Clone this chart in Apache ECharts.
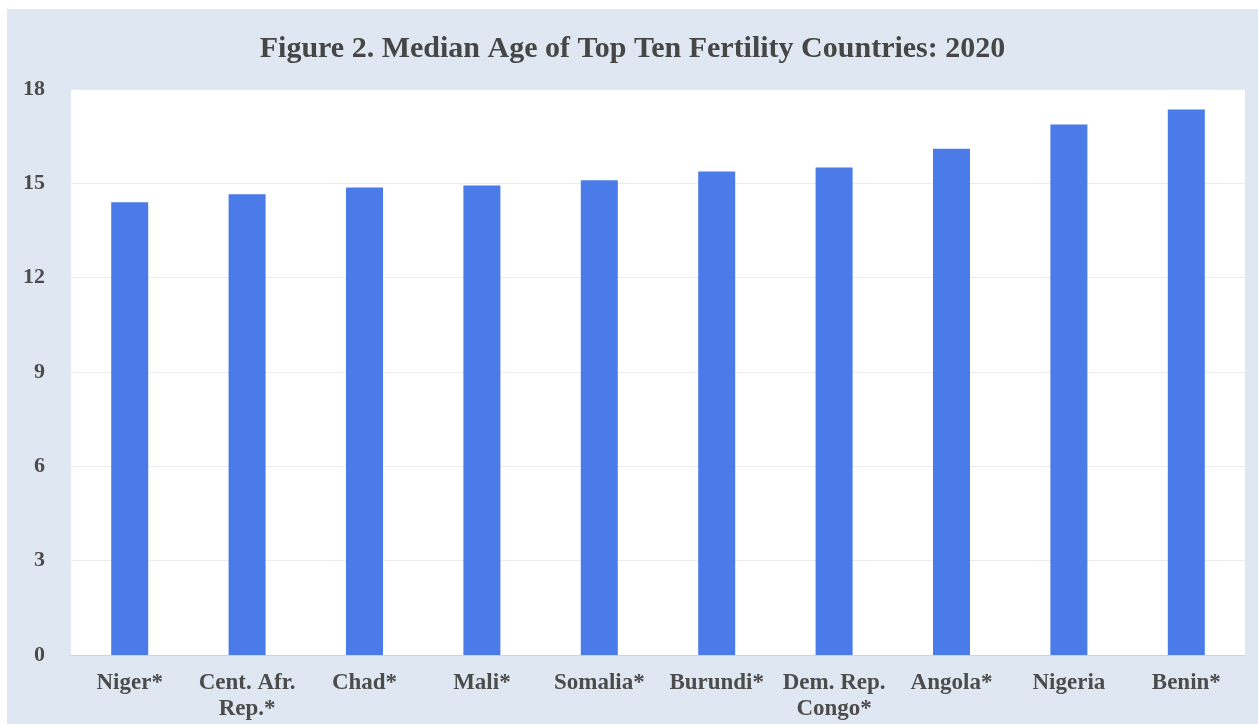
<!DOCTYPE html>
<html>
<head>
<meta charset="utf-8">
<script src="https://cdn.jsdelivr.net/npm/echarts@6/dist/echarts.min.js"></script>
<style>
  html, body { margin: 0; padding: 0; background: #ffffff; }
  #chart { position: absolute; left: 7px; top: 9px; width: 1251px; height: 715px; }
</style>
</head>
<body>
<div id="chart"></div>
<script>
  const countries = ['Niger*', 'Cent. Afr.\nRep.*', 'Chad*', 'Mali*', 'Somalia*', 'Burundi*', 'Dem. Rep.\nCongo*', 'Angola*', 'Nigeria', 'Benin*'];
  const medianAge = [14.4, 14.65, 14.87, 14.93, 15.1, 15.38, 15.5, 16.1, 16.87, 17.35];
  const yTicks = [0, 3, 6, 9, 12, 15, 18];

  const chart = echarts.init(document.getElementById('chart'));
  const serif = '"Liberation Serif", "DejaVu Serif", serif';

  chart.setOption({
    backgroundColor: '#dfe8f2',
    animation: false,
    title: {
      text: 'Figure 2. Median Age of Top Ten Fertility Countries: 2020',
      left: 'center',
      top: 20,
      textStyle: { fontFamily: serif, fontWeight: 'bold', fontSize: 30, color: '#464646' }
    },
    grid: {
      left: 64, right: 13, top: 80, bottom: 69,
      show: true, backgroundColor: '#ffffff', borderWidth: 0
    },
    xAxis: {
      type: 'category',
      data: countries,
      axisTick: { show: false },
      axisLine: { lineStyle: { color: '#cfd3d8', width: 1 } },
      axisLabel: {
        fontFamily: serif, fontWeight: 'bold', fontSize: 23, color: '#4c4c4c',
        lineHeight: 26, margin: 15, interval: 0
      }
    },
    yAxis: {
      type: 'value',
      min: yTicks[0],
      max: yTicks[yTicks.length - 1],
      interval: 3,
      axisLine: { show: false },
      axisTick: { show: false },
      axisLabel: { fontFamily: serif, fontWeight: 'bold', fontSize: 22, color: '#4c4c4c', margin: 26 },
      splitLine: { lineStyle: { color: '#e9ebee', width: 1 } }
    },
    series: [{
      type: 'bar',
      data: medianAge,
      barWidth: 37,
      itemStyle: { color: '#4b7be9' }
    }]
  });
</script>
</body>
</html>
